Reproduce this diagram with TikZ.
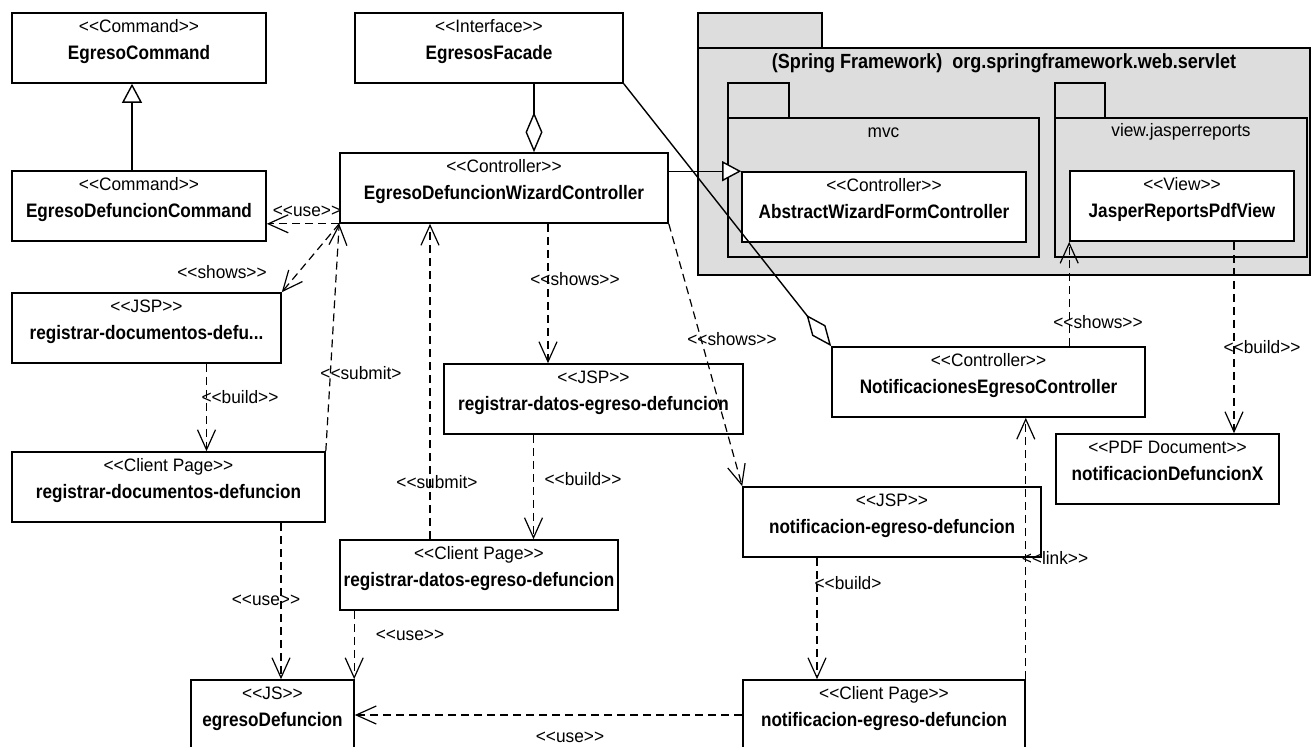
\documentclass[tikz,border=0pt]{standalone}
\usepackage{fontspec}
\setmainfont{Liberation Sans}[FakeStretch=0.88]
\newfontfamily\stereofont{Liberation Sans}[FakeStretch=0.96]
\usetikzlibrary{arrows.meta}

\definecolor{pkggray}{RGB}{221,221,221}

\tikzset{classbox/.style = {draw, fill=white, line width=1.6pt, minimum height=70, inner sep=0},
         stereo/.style = {font=\stereofont\fontsize{18}{21}\selectfont, inner sep=0},
         cname/.style = {font=\bfseries\fontsize{19.5}{23}\selectfont, inner sep=0},
         pkg/.style = {draw, fill=pkggray, line width=1.6pt, inner sep=0},
         dep/.style = {line width=1.2pt, dash pattern=on 8pt off 5pt,
                       -{Straight Barb[length=20pt, width=18pt]}},
         gen/.style = {line width=1.4pt, -{Triangle[fill=white, length=19pt, width=20pt]}},
         aggr/.style = {line width=1.4pt, -{Diamond[fill=white, length=40pt, width=17pt]}},
         lbl/.style = {font=\stereofont\fontsize{18}{21}\selectfont, inner sep=0}
        }

% class box: name, centre, width, stereotype, title
\newcommand{\umlclass}[5]{%
  \node[classbox, minimum width=#3] at (#2) (#1) {};
  \node[stereo, anchor=base] at ([yshift=-20pt]#1.north) (#1-st) {#4};
  \node[cname, anchor=base] at ([yshift=-47pt]#1.north) (#1-nm) {#5};
}

\begin{document}
\begin{tikzpicture}[x=1pt, y=-1pt]
\useasboundingbox (0,0) rectangle (1312,747);
\clip (0,0) rectangle (1312,747);

\node[pkg, minimum width=124, minimum height=35] at (760,30.5) (spring-tab) {};
\node[pkg, minimum width=612, minimum height=227] at (1004,161.5) (spring) {};
\node[cname, font=\bfseries\fontsize{20.5}{24}\selectfont] at (1004,63) (spring-nm)
     {(Spring Framework)\hspace{10pt}org.springframework.web.servlet};
\node[pkg, minimum width=61, minimum height=35] at (758.5,100.5) (mvc-tab) {};
\node[pkg, minimum width=311, minimum height=139] at (883.5,187.5) (mvc) {};
\node[stereo] at (883.5,133) (mvc-nm) {mvc};
\node[pkg, minimum width=50, minimum height=35] at (1080,100.5) (view-tab) {};
\node[pkg, minimum width=252, minimum height=139] at (1181,187.5) (view) {};
\node[stereo] at (1181,132) (view-nm) {view.jasperreports};

\umlclass{egcmd}{139,48}{254}{<<Command>>}{EgresoCommand}
\umlclass{egdefcmd}{139,206}{254}{<<Command>>}{EgresoDefuncionCommand}
\umlclass{facade}{489,48}{268}{<<Interface>>}{EgresosFacade}
\umlclass{wizard}{504,188}{328}{<<Controller>>}{EgresoDefuncionWizardController}
\umlclass{abstract}{884,207}{284}{<<Controller>>}{AbstractWizardFormController}
\umlclass{jasper}{1182,206}{224}{<<View>>}{JasperReportsPdfView}
\umlclass{jspdocs}{146.5,328}{269}{<<JSP>>}{registrar-documentos-defu...}
\umlclass{cpdocs}{168.5,487}{313}{<<Client Page>>}{registrar-documentos-defuncion}
\umlclass{jspdatos}{593.5,399}{299}{<<JSP>>}{registrar-datos-egreso-defuncion}
\umlclass{cpdatos}{479,575}{278}{<<Client Page>>}{registrar-datos-egreso-defuncion}
\umlclass{notifctrl}{988.5,382}{313}{<<Controller>>}{NotificacionesEgresoController}
\umlclass{pdf}{1167.5,469}{223}{<<PDF Document>>}{notificacionDefuncionX}
\umlclass{jspnotif}{892,522}{298}{<<JSP>>}{notificacion-egreso-defuncion}
\umlclass{cpnotif}{884,715}{282}{<<Client Page>>}{notificacion-egreso-defuncion}
\umlclass{js}{272.5,715}{163}{<<JS>>}{egresoDefuncion}

\draw[gen] ([xshift=-7]egdefcmd.north) -- ([xshift=-7]egcmd.south);
\draw[gen] ([yshift=-19]wizard.north east) -- (abstract.north west);
\draw[aggr] ([xshift=45]facade.south) -- ([xshift=45]facade.south |- wizard.north);
\draw[aggr] (facade.south east) -- (notifctrl.north west);

\draw[dep] (wizard.south west) -- (wizard.south west -| egdefcmd.east);
\draw[dep] (wizard.south west) -- (jspdocs.north east);
\draw[dep] (cpdocs.north east) -- (wizard.south west);
\draw[dep] ([xshift=60]jspdocs.south) -- ([xshift=60]jspdocs.south |- cpdocs.north);
\draw[dep] ([xshift=44]wizard.south) -- ([xshift=44]wizard.south |- jspdatos.north);
\draw[dep] (wizard.south east) -- (jspnotif.north west);
\draw[dep] ([xshift=-49]cpdatos.north) -- ([xshift=-49]cpdatos.north |- wizard.south);
\draw[dep] ([xshift=-60]jspdatos.south) -- ([xshift=-60]jspdatos.south |- cpdatos.north);
\draw[dep] ([xshift=112.5]cpdocs.south) -- ([xshift=112.5]cpdocs.south |- js.north);
\draw[dep] ([xshift=15]cpdatos.south west) -- ([xshift=15]cpdatos.south west |- js.north);
\draw[dep] (cpnotif.west) -- (cpnotif.west -| js.east);
\draw[dep] ([xshift=-75]jspnotif.south) -- ([xshift=-75]jspnotif.south |- cpnotif.north);
\draw[dep] (cpnotif.north east) -- (cpnotif.north east |- notifctrl.south);
\draw[dep] (jasper.south west |- notifctrl.north) -- (jasper.south west);
\draw[dep] ([xshift=52]jasper.south) -- ([xshift=52]jasper.south |- pdf.north);

\node[lbl] at (307,211) (l-use1) {<<use>>};
\node[lbl] at (222,272) (l-shows1) {<<shows>>};
\node[lbl] at (361,373) (l-submit1) {<<submit>};
\node[lbl] at (240,397) (l-build1) {<<build>>};
\node[lbl] at (575,279) (l-shows2) {<<shows>>};
\node[lbl] at (732,339) (l-shows3) {<<shows>>};
\node[lbl] at (437,482) (l-submit2) {<<submit>};
\node[lbl] at (583,479) (l-build2) {<<build>>};
\node[lbl] at (266,600) (l-use2) {<<use>>};
\node[lbl] at (410,635) (l-use3) {<<use>>};
\node[lbl] at (570,737) (l-use4) {<<use>>};
\node[lbl] at (848,583) (l-build3) {<<build>};
\node[lbl] at (1055,558) (l-link) {<<link>>};
\node[lbl] at (1098,322) (l-shows4) {<<shows>>};
\node[lbl] at (1262,347) (l-build4) {<<build>>};
\end{tikzpicture}
\end{document}
